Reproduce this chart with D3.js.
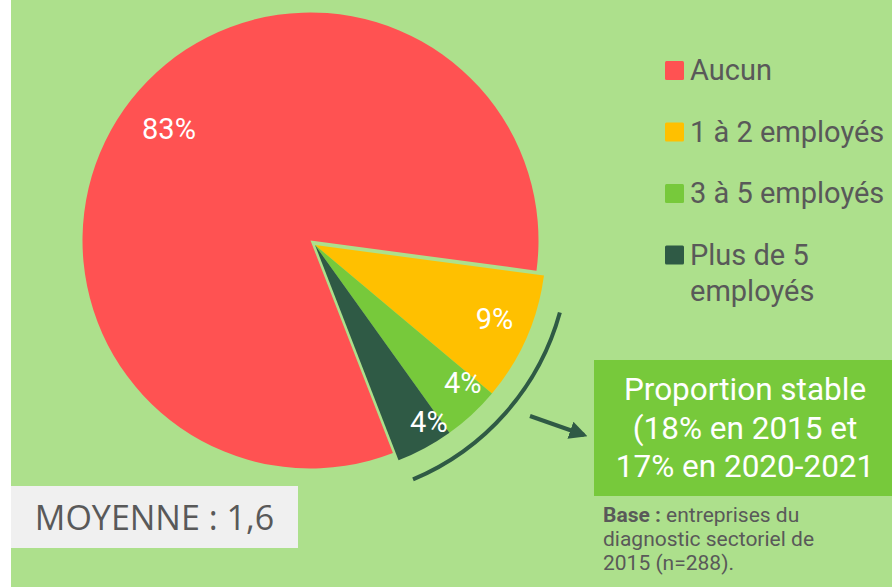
<!DOCTYPE html>
<html>
<head>
<meta charset="utf-8">
<script src="https://cdn.jsdelivr.net/npm/d3@7"></script>
<style>
  html, body { margin: 0; padding: 0; background: #ffffff; }
  svg { display: block; }
</style>
</head>
<body>
<svg id="chart" width="892" height="587"></svg>
<script>
// Nombre de salariés par entreprise
const categories = ["Aucun", "1 à 2 employés", "3 à 5 employés", "Plus de 5 employés"];
const values = [83, 9, 4, 4];
const colors = ["#ff5252", "#ffc000", "#77c93b", "#2f5a45"];
const legendLines = [["Aucun"], ["1 à 2 employés"], ["3 à 5 employés"], ["Plus de 5", "employés"]];
const noteLines = ["Proportion stable", "(18% en 2015 et", "17% en 2020-2021"];
const baseLines = [["Base :", " entreprises du"], ["", "diagnostic sectoriel de"], ["", "2015 (n=288)."]];
const average = "MOYENNE : 1,6";

const W = 892, H = 587;
const svg = d3.select("#chart");
const textGrey = "#595959";
const deg = Math.PI / 180;

// fond vert
svg.append("rect").attr("x", 11).attr("y", 0).attr("width", W - 11).attr("height", H).attr("fill", "#ade08c");

// camembert : la part « Aucun » et les autres parts légèrement détachées
const data = categories.map((c, i) => ({ cat: c, value: values[i], color: colors[i] }));
const start = 158.8;
const pie = d3.pie().sort(null).value(d => d.value)
  .startAngle(start * deg).endAngle((start + 360) * deg);
const arcs = pie(data);

const mainCenter = [310.5, 240.5], mainR = 228;
const sideCenter = [315, 245], sideR = 231;
// placement des étiquettes : rayon et décalage angulaire (degrés) par part
const labelPlace = [[0.79, 0], [0.84, -1.4], [0.875, -4.2], [0.91, -4.4]];

arcs.forEach((a, i) => {
  const c = i === 0 ? mainCenter : sideCenter;
  const r = i === 0 ? mainR : sideR;
  const arc = d3.arc().innerRadius(0).outerRadius(r);
  const g = svg.append("g").attr("transform", `translate(${c[0]},${c[1]})`);
  g.append("path").attr("d", arc(a)).attr("fill", a.data.color);
  const lr = labelPlace[i][0] * r;
  const mid = (a.startAngle + a.endAngle) / 2 + labelPlace[i][1] * deg;
  const lx = lr * Math.sin(mid), ly = -lr * Math.cos(mid);
  g.append("text")
    .attr("x", lx).attr("y", ly)
    .attr("text-anchor", "middle").attr("dominant-baseline", "central")
    .attr("font-family", "Roboto, sans-serif").attr("font-size", 29)
    .attr("fill", "#ffffff")
    .text(d3.format(".0f")(a.data.value) + "%");
});

// accolade courbe autour des petites parts
const bracket = d3.path();
bracket.arc(sideCenter[0], sideCenter[1], 254, (105.4 - 90) * deg, (157.3 - 90) * deg);
svg.append("path").attr("d", bracket.toString())
  .attr("fill", "none").attr("stroke", "#2f5a45").attr("stroke-width", 4);

// flèche vers l'encadré
svg.append("defs").append("marker")
  .attr("id", "head").attr("viewBox", "0 0 10 10").attr("refX", 8).attr("refY", 5)
  .attr("markerWidth", 4.5).attr("markerHeight", 4.5).attr("orient", "auto")
  .append("path").attr("d", "M0,0 L10,5 L0,10 Z").attr("fill", "#2f5a45");
svg.append("line").attr("x1", 530).attr("y1", 416).attr("x2", 584).attr("y2", 435)
  .attr("stroke", "#2f5a45").attr("stroke-width", 4).attr("marker-end", "url(#head)");

// légende
const legend = svg.append("g").attr("font-family", "Roboto, sans-serif").attr("font-size", 29).attr("fill", textGrey);
legendLines.forEach((lines, i) => {
  const y0 = 80 + i * 61.5;
  legend.append("rect").attr("x", 665).attr("y", y0 - 19).attr("width", 19).attr("height", 19)
    .attr("rx", 1.5).attr("fill", colors[i]);
  lines.forEach((t, j) => {
    legend.append("text").attr("x", 690).attr("y", y0 + j * 36).text(t);
  });
});

// encadré « Proportion stable »
svg.append("rect").attr("x", 594).attr("y", 360).attr("width", W - 594).attr("height", 136).attr("fill", "#77c93b");
noteLines.forEach((t, i) => {
  svg.append("text").attr("x", 745).attr("y", 400 + i * 38.5)
    .attr("text-anchor", "middle").attr("font-family", "Roboto, sans-serif").attr("font-size", 31.5)
    .attr("fill", "#ffffff").text(t);
});

// source
baseLines.forEach((parts, i) => {
  const t = svg.append("text").attr("x", 603).attr("y", 522 + i * 24)
    .attr("font-family", "Roboto, sans-serif").attr("font-size", 21).attr("fill", textGrey);
  if (parts[0]) t.append("tspan").attr("font-weight", "bold").text(parts[0]);
  t.append("tspan").text(parts[1]);
});

// moyenne
svg.append("rect").attr("x", 11).attr("y", 486).attr("width", 287).attr("height", 62).attr("fill", "#f0f0f0");
svg.append("text").attr("x", 154.5).attr("y", 530).attr("text-anchor", "middle")
  .attr("font-family", "'Open Sans', sans-serif").attr("font-size", 34).attr("fill", textGrey)
  .text(average);
</script>
</body>
</html>
